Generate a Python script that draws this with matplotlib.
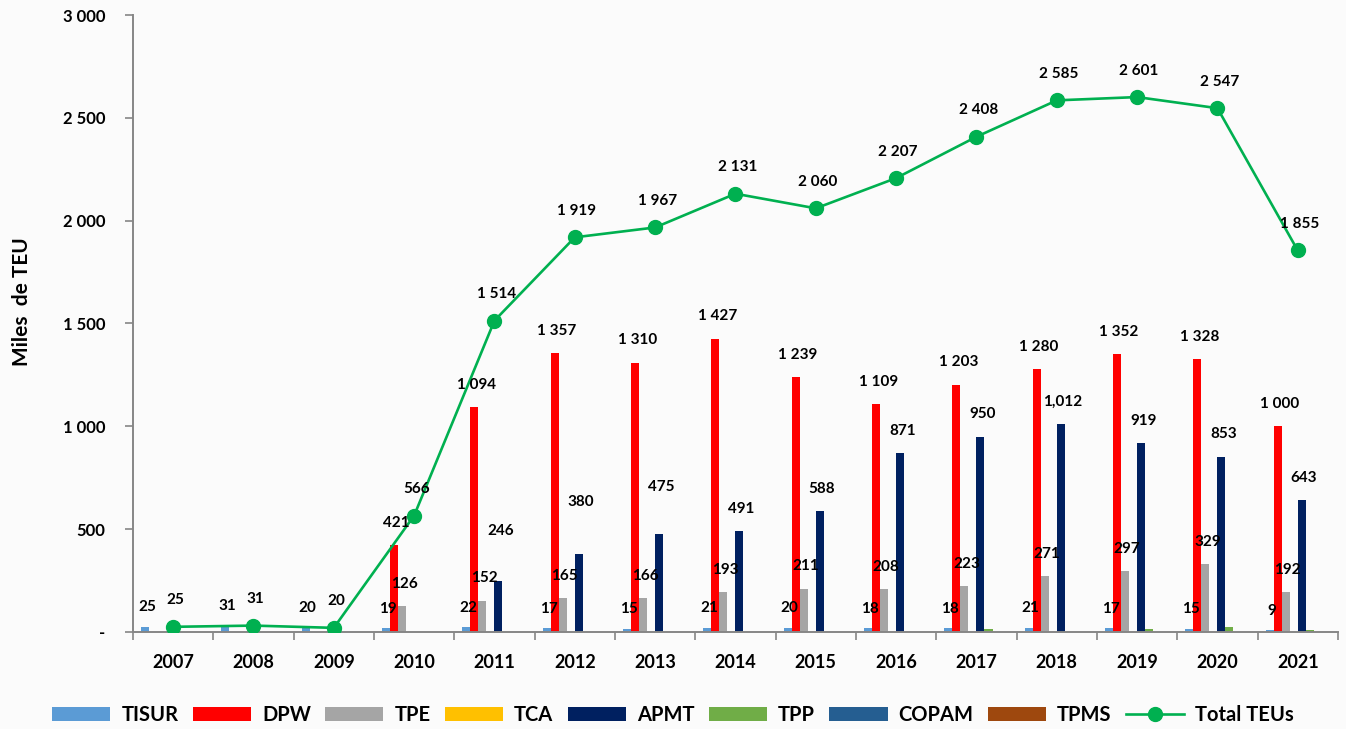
import matplotlib.pyplot as plt
from matplotlib.ticker import FixedLocator, FuncFormatter
import numpy as np

plt.rcParams['font.family'] = ['Lato', 'DejaVu Sans']
plt.rcParams['font.weight'] = 'bold'

years = [2007, 2008, 2009, 2010, 2011, 2012, 2013, 2014, 2015, 2016, 2017, 2018, 2019, 2020, 2021]

# Miles de TEU por terminal
tisur = [25, 31, 20, 19, 22, 17, 15, 21, 20, 18, 18, 21, 17, 15, 9]
dpw = [0, 0, 0, 421, 1094, 1357, 1310, 1427, 1239, 1109, 1203, 1280, 1352, 1328, 1000]
tpe = [0, 0, 0, 126, 152, 165, 166, 193, 211, 208, 223, 271, 297, 329, 192]
tca = [0] * 15
apmt = [0, 0, 0, 0, 246, 380, 475, 491, 588, 871, 950, 1012, 919, 853, 643]
tpp = [0, 0, 0, 0, 0, 0, 0, 0, 0, 0, 14, 1, 16, 22, 11]
copam = [0] * 15
tpms = [0] * 15
total = [25, 31, 20, 566, 1514, 1919, 1967, 2131, 2060, 2207, 2408, 2585, 2601, 2547, 1855]

series = [
    ("TISUR", tisur, "#5B9BD5"),
    ("DPW", dpw, "#FF0000"),
    ("TPE", tpe, "#A5A5A5"),
    ("TCA", tca, "#FFC000"),
    ("APMT", apmt, "#002060"),
    ("TPP", tpp, "#70AD47"),
    ("COPAM", copam, "#255E91"),
    ("TPMS", tpms, "#9E480E"),
]
labelled = ["TISUR", "DPW", "TPE", "APMT"]
# label nudges (extra points upward) where the original chart moved them
nudge = {("APMT", 2011): 20, ("APMT", 2012): 21, ("APMT", 2013): 18}
comma_fmt = {("APMT", 2018)}


def fmt(v, comma=False):
    s = "{:,}".format(int(v))
    return s if comma else s.replace(",", " ")


fig = plt.figure(figsize=(13.46, 7.29), dpi=100, facecolor="#fbfbfb")
ax = fig.add_axes([0.0988, 0.1331, 0.8952, 0.8463])
ax.set_facecolor("#fbfbfb")

x = np.arange(len(years))
w = 0.1
for i, (name, vals, col) in enumerate(series):
    xs = x + (i - 3.5) * w
    ax.bar(xs, vals, width=w, color=col, label=name, zorder=2)
    if name in labelled:
        for xi, v, yr in zip(xs, vals, years):
            if v == 0:
                continue
            off = 14 if name == "TISUR" else 16
            off += nudge.get((name, yr), 0)
            ax.annotate(fmt(v, (name, yr) in comma_fmt), (xi, v), xytext=(1.5, off),
                        textcoords="offset points", ha="center", va="center",
                        fontsize=11, fontweight="bold", color="black", zorder=5)

ax.plot(x, total, color="#00B050", lw=1.9, marker="o", ms=10, label="Total TEUs", zorder=4)
for xi, v in zip(x, total):
    ax.annotate(fmt(v), (xi, v), xytext=(1.5, 19), textcoords="offset points",
                ha="center", va="center", fontsize=11, fontweight="bold", zorder=5)

ax.set_xlim(-0.5, len(years) - 0.5)
ax.set_ylim(0, 3000)
ax.set_yticks(np.arange(0, 3001, 500))
ax.yaxis.set_major_formatter(FuncFormatter(lambda v, p: "-" if v == 0 else fmt(v)))
ax.set_xticks(x)
ax.set_xticklabels([str(y) for y in years])
ax.xaxis.set_minor_locator(FixedLocator(np.arange(-0.5, len(years), 1)))
ax.tick_params(axis="x", which="major", length=0, pad=16, labelsize=13)
ax.tick_params(axis="x", which="minor", length=6, color="#868686", width=1.2)
ax.tick_params(axis="y", length=6, color="#868686", width=1.2, pad=14, labelsize=12)

for s in ["top", "right"]:
    ax.spines[s].set_visible(False)
for s in ["left", "bottom"]:
    ax.spines[s].set_color("#868686")
    ax.spines[s].set_linewidth(1.4)

fig.text(22 / 1346, 1 - 302 / 729, "Miles  de TEU", rotation=90, ha="center", va="center",
         fontsize=15, fontweight="bold")

handles, names = ax.get_legend_handles_labels()
order = names[1:] + names[:1]
handles = handles[1:] + handles[:1]
fig.legend(handles, order, loc="center", bbox_to_anchor=(0.5, 0.019), ncol=9, frameon=False,
           handlelength=2.9, handletextpad=0.55, columnspacing=0.7,
           prop={"weight": "bold", "size": 14.5})

fig.savefig("out.png", dpi=100, facecolor=fig.get_facecolor())
